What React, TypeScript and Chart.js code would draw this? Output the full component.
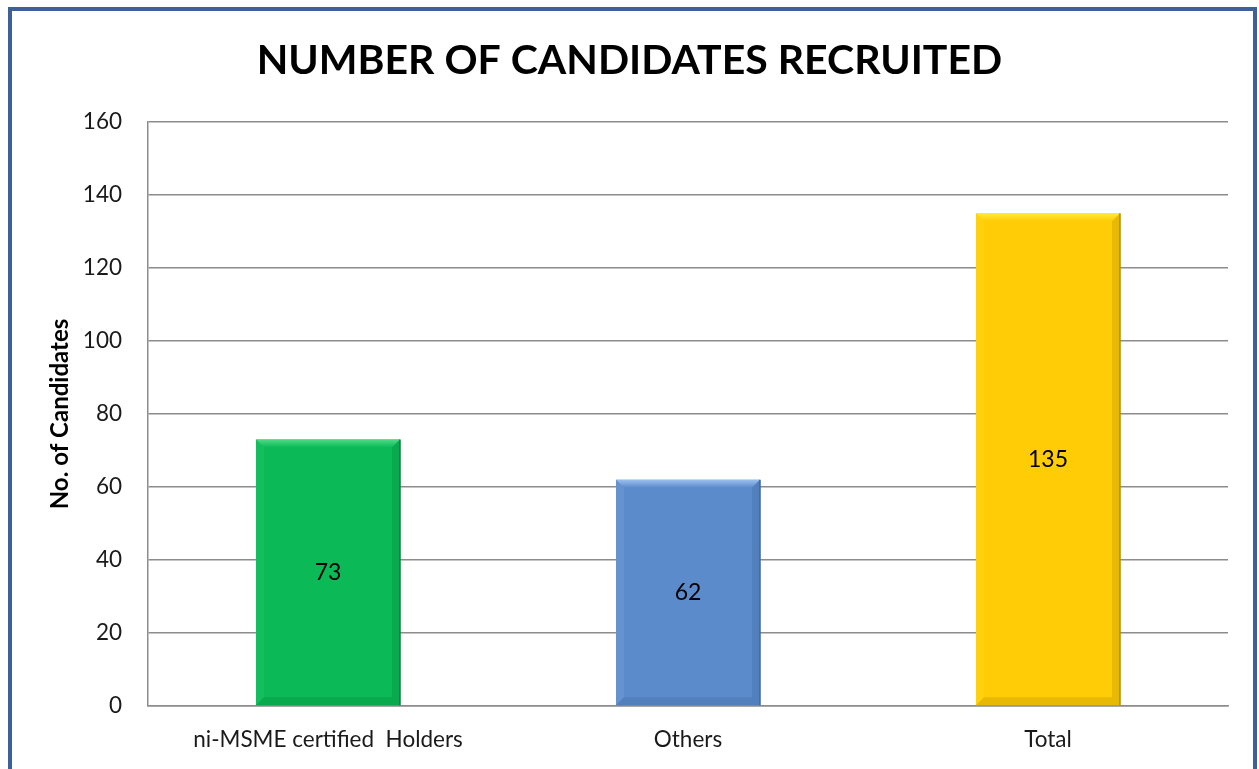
import React, { useEffect, useRef } from "react";
import { Chart, registerables } from "chart.js";

Chart.register(...registerables);

const categories = ["ni-MSME certified  Holders", "Others", "Total"];
const values = [73, 62, 135];
const barColors = ["#0BBA57", "#5B8BCB", "#FFCC06"];
const bevelLight = ["#4DDA86", "#9CC0EE", "#FFEC3A"];
const bevelDark = ["#07803C", "#3D679E", "#B38E00"];
const yTicks = [0, 20, 40, 60, 80, 100, 120, 140, 160];
const titleText = "NUMBER OF CANDIDATES RECRUITED";
const yTitle = "No. of Candidates";

const FONT = "Lato, 'Open Sans', sans-serif";

const framePlugin = {
  id: "frame",
  beforeDraw(chart: any) {
    const ctx = chart.ctx;
    ctx.save();
    ctx.fillStyle = "#ffffff";
    ctx.fillRect(0, 0, chart.width, chart.height);
    ctx.strokeStyle = "#3D6196";
    ctx.lineWidth = 4;
    ctx.strokeRect(10, 9, chart.width - 14, chart.height + 20);
    ctx.restore();
  },
};

const bevelPlugin = {
  id: "bevel",
  afterDatasetsDraw(chart: any) {
    const ctx = chart.ctx;
    const meta = chart.getDatasetMeta(0);
    meta.data.forEach((bar: any, i: number) => {
      const { x, y, base, width } = bar.getProps(["x", "y", "base", "width"], true);
      const l = x - width / 2;
      const r = x + width / 2;
      const t = y;
      const b = base;
      const d = 8;
      ctx.save();
      const g = ctx.createLinearGradient(0, t, 0, t + d);
      g.addColorStop(0, bevelLight[i]);
      g.addColorStop(1, barColors[i]);
      ctx.fillStyle = g;
      ctx.beginPath();
      ctx.moveTo(l, t);
      ctx.lineTo(r, t);
      ctx.lineTo(r - d, t + d);
      ctx.lineTo(l + d, t + d);
      ctx.closePath();
      ctx.fill();
      ctx.fillStyle = bevelLight[i];
      ctx.globalAlpha = 0.15;
      ctx.beginPath();
      ctx.moveTo(l, t);
      ctx.lineTo(l + d, t + d);
      ctx.lineTo(l + d, b - d);
      ctx.lineTo(l, b);
      ctx.closePath();
      ctx.fill();
      ctx.globalAlpha = 1;
      ctx.fillStyle = bevelDark[i];
      ctx.globalAlpha = 0.3;
      ctx.beginPath();
      ctx.moveTo(r, t);
      ctx.lineTo(r, b);
      ctx.lineTo(r - d, b - d);
      ctx.lineTo(r - d, t + d);
      ctx.closePath();
      ctx.fill();
      ctx.beginPath();
      ctx.moveTo(l, b);
      ctx.lineTo(r, b);
      ctx.lineTo(r - d, b - d);
      ctx.lineTo(l + d, b - d);
      ctx.closePath();
      ctx.fill();
      ctx.globalAlpha = 1;
      ctx.strokeStyle = bevelDark[i];
      ctx.lineWidth = 1.5;
      ctx.beginPath();
      ctx.moveTo(r, t);
      ctx.lineTo(r, b);
      ctx.stroke();
      ctx.fillStyle = "#000000";
      ctx.font = `23px ${FONT}`;
      ctx.textAlign = "center";
      ctx.textBaseline = "middle";
      ctx.fillText(String(values[i]), x, (t + b) / 2);
      ctx.restore();
    });
  },
};

export default function App() {
  const ref = useRef<HTMLCanvasElement | null>(null);
  useEffect(() => {
    if (!ref.current) return;
    const chart = new Chart(ref.current, {
      type: "bar",
      data: {
        labels: categories,
        datasets: [
          {
            data: values,
            backgroundColor: barColors,
            borderWidth: 0,
            categoryPercentage: 1,
            barPercentage: 0.4,
          },
        ],
      },
      options: {
        animation: false,
        responsive: false,
        layout: { padding: { left: 31, right: 31, top: 12, bottom: 13 } },
        plugins: {
          legend: { display: false },
          tooltip: { enabled: false },
          title: {
            display: true,
            text: titleText,
            color: "#000000",
            font: { family: FONT, size: 41, weight: "bold" },
            padding: { top: 24, bottom: 36.8 },
          },
        },
        scales: {
          x: {
            grid: { display: false, drawTicks: false },
            border: { display: true, color: "#8C8C8C", width: 1.5 },
            ticks: { color: "#1a1a1a", font: { family: FONT, size: 22.5 }, padding: 20.5, maxRotation: 0 },
            afterFit: (s: any) => {
              s.height = 50;
            },
          },
          y: {
            min: 0,
            max: 160,
            afterBuildTicks: (scale: any) => {
              scale.ticks = yTicks.map((v) => ({ value: v }));
            },
            afterFit: (s: any) => {
              s.width = 117;
            },
            grid: { color: "#8C8C8C", lineWidth: 1.5, drawTicks: false },
            border: { display: true, color: "#8C8C8C", width: 1.5 },
            ticks: { color: "#1a1a1a", font: { family: FONT, size: 22.5 }, padding: 26 },
            title: {
              display: true,
              text: yTitle,
              color: "#000000",
              font: { family: FONT, size: 24, weight: "bold" },
              padding: { top: 14.6, bottom: 0 },
            },
          },
        },
      },
      plugins: [framePlugin, bevelPlugin],
    });
    return () => chart.destroy();
  }, []);
  return (
    <div style={{ position: "fixed", left: 0, top: 0, width: 1259, height: 769 }}>
      <canvas ref={ref} width={1259} height={769} style={{ display: "block" }} />
    </div>
  );
}
